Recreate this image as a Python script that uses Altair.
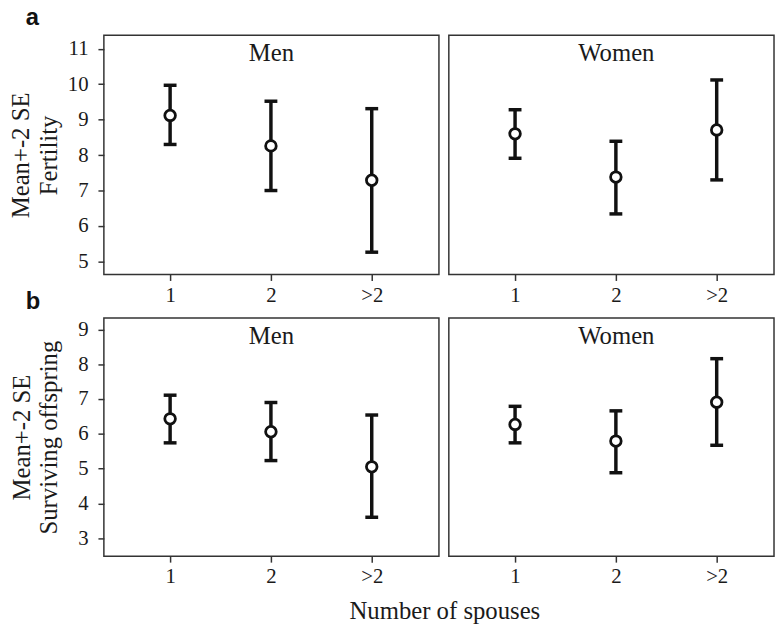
import altair as alt
import pandas as pd

# ---- data ----
spouse_labels = ["1", "2", ">2"]
spouse_pos = [1, 2, 3]

fert_men_mean = [9.12, 8.26, 7.29]
fert_men_lo = [8.30, 7.00, 5.26]
fert_men_hi = [9.97, 9.52, 9.31]

fert_women_mean = [8.60, 7.38, 8.71]
fert_women_lo = [7.91, 6.34, 7.30]
fert_women_hi = [9.28, 8.39, 10.12]

surv_men_mean = [6.43, 6.06, 5.05]
surv_men_lo = [5.74, 5.23, 3.60]
surv_men_hi = [7.11, 6.90, 6.54]

surv_women_mean = [6.27, 5.79, 6.91]
surv_women_lo = [5.74, 4.88, 5.67]
surv_women_hi = [6.79, 6.66, 8.16]

fert_ticks = [5, 6, 7, 8, 9, 10, 11]
surv_ticks = [3, 4, 5, 6, 7, 8, 9]

SERIF = "Liberation Serif"
SANS = "Liberation Sans"

label_expr = " : ".join(
    [f"datum.value == {p} ? '{l}'" for p, l in zip(spouse_pos, spouse_labels)] + ["datum.label"]
)

W_LEFT = 339
W_RIGHT = 329
STEP = 102.0
X0 = 0.343
TFS = 25  # title font size


def panel(means, los, his, title, ydom, yticks, ytitle, width, height,
          xtitle=None, letters=None, y_title_pad=8):
    df = pd.DataFrame({"x": spouse_pos, "mean": means, "lo": los, "hi": his})
    xdom = [X0, X0 + width / STEP]
    common = dict(values=spouse_pos, labelExpr=label_expr, grid=False, domain=False,
                  tickSize=6, labelPadding=4, labelFontSize=21, labelFont=SERIF,
                  labelColor="#1a1a1a", tickColor="#333", tickWidth=1.5, labelFlush=False)
    if xtitle:
        xaxis = alt.Axis(**common, titleFont=SERIF, titleFontSize=TFS,
                         titleFontWeight="normal", titleColor="#1a1a1a", titleX=344.5,
                         titleY=63, titleAlign="center", titleBaseline="alphabetic")
    else:
        xaxis = alt.Axis(**common)
    xenc = alt.X("x:Q", scale=alt.Scale(domain=xdom, nice=False, zero=False),
                 axis=xaxis, title=xtitle if xtitle else None)
    yscale = alt.Scale(domain=ydom, nice=False, zero=False)
    if ytitle:
        yenc = alt.Y("lo:Q", scale=yscale, title=ytitle,
                     axis=alt.Axis(values=yticks, grid=False, domain=False, tickSize=6,
                                   labelPadding=10, labelFontSize=21, labelFont=SERIF,
                                   labelColor="#1a1a1a", tickColor="#333", tickWidth=1.5,
                                   titleFont=SERIF, titleFontSize=TFS,
                                   titleFontWeight="normal", titleColor="#1a1a1a",
                                   titlePadding=y_title_pad, titleLineHeight=28))
    else:
        yenc = alt.Y("lo:Q", scale=yscale, axis=None)

    base = alt.Chart(df)
    bars = base.mark_rule(strokeWidth=3.5, color="#111").encode(x=xenc, y=yenc, y2="hi:Q")
    cap_lo = base.mark_rule(strokeWidth=3.5, color="#111", xOffset=-6.5, x2Offset=6.5).encode(
        x="x:Q", x2="x:Q", y="lo:Q")
    cap_hi = base.mark_rule(strokeWidth=3.5, color="#111", xOffset=-6.5, x2Offset=6.5).encode(
        x="x:Q", x2="x:Q", y="hi:Q")
    pts = base.mark_point(shape="circle", size=115, fill="white", fillOpacity=1,
                          stroke="#111", strokeWidth=2.8, opacity=1).encode(
        x="x:Q", y="mean:Q")
    ttl = alt.Chart(pd.DataFrame({"t": [title]})).mark_text(
        font=SERIF, fontSize=TFS, color="#1a1a1a", align="center", baseline="alphabetic"
    ).encode(text="t:N", x=alt.value(169.5), y=alt.value(26))

    layers = [bars, cap_lo, cap_hi, pts, ttl]
    if letters:
        for txt, ly in letters:
            layers.append(
                alt.Chart(pd.DataFrame({"t": [txt]})).mark_text(
                    font=SANS, fontSize=24, fontWeight="bold", color="#111",
                    align="left", baseline="alphabetic"
                ).encode(text="t:N", x=alt.value(-79), y=alt.value(ly))
            )
    return alt.layer(*layers).properties(width=width, height=height)


top_left = panel(fert_men_mean, fert_men_lo, fert_men_hi, "Men", [4.63, 11.38], fert_ticks,
                 ["Mean+-2 SE", "Fertility"], W_LEFT, 242,
                 letters=[("a", -10), ("b", 277)], y_title_pad=6)
top_right = panel(fert_women_mean, fert_women_lo, fert_women_hi, "Women", [4.63, 11.38],
                  fert_ticks, None, W_RIGHT, 242)
bot_left = panel(surv_men_mean, surv_men_lo, surv_men_hi, "Men", [2.48, 9.33], surv_ticks,
                 ["Mean+-2 SE", "Surviving offspring"], W_LEFT, 241,
                 xtitle="Number of spouses", y_title_pad=16)
bot_right = panel(surv_women_mean, surv_women_lo, surv_women_hi, "Women", [2.48, 9.33],
                  surv_ticks, None, W_RIGHT, 241)

chart = alt.concat(
    top_left, top_right, bot_left, bot_right,
    columns=2, spacing={"row": 44, "column": 10}, bounds="flush"
).properties(
    padding={"left": 0, "top": -6, "right": 0, "bottom": 0}
).configure_view(stroke="#333", strokeWidth=1.5)

chart.save("out.html", embed_options={"renderer": "svg", "actions": False})
